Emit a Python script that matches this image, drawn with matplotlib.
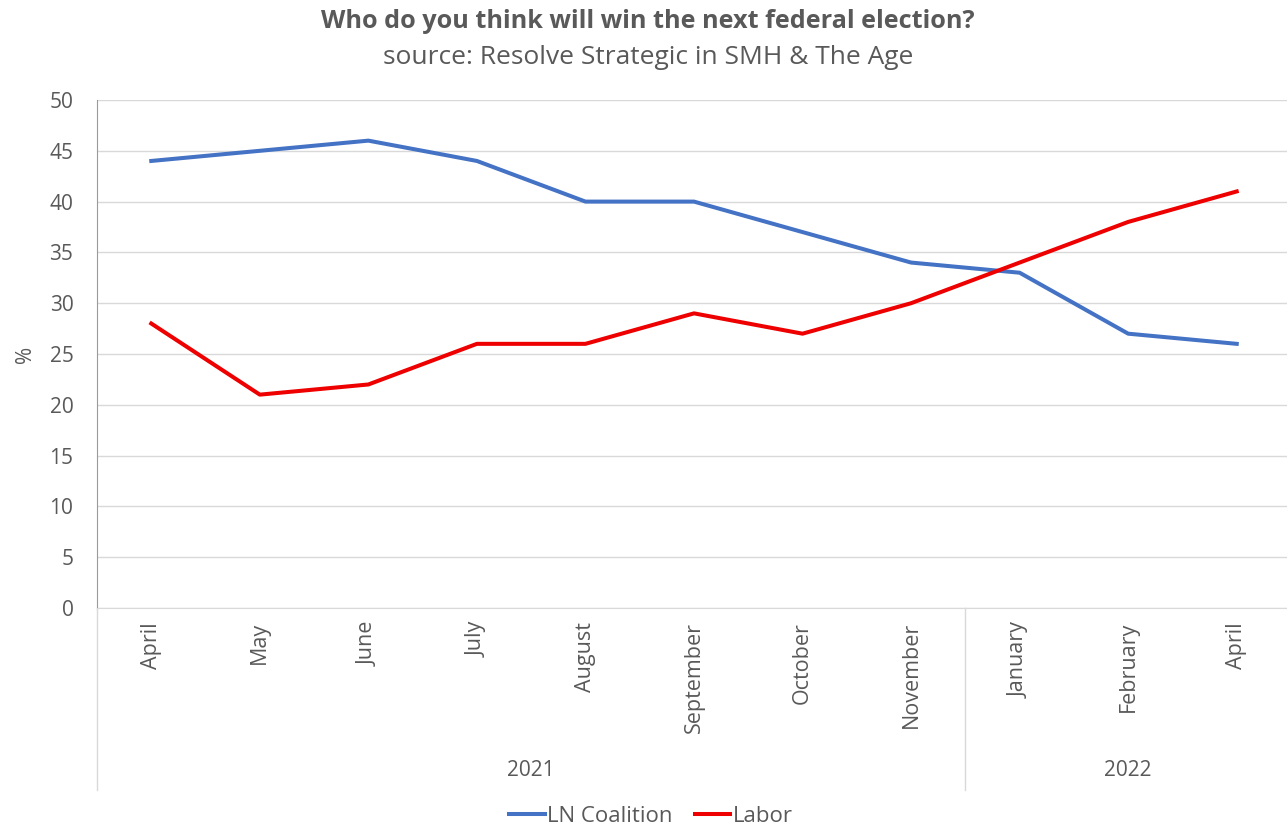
import numpy as np
import matplotlib
matplotlib.use("Agg")
from matplotlib import pyplot as plt
from matplotlib.transforms import blended_transform_factory

plt.rcParams['font.family'] = ['Open Sans', 'DejaVu Sans']

months = ["April", "May", "June", "July", "August", "September", "October",
          "November", "January", "February", "April"]
years = ["2021", "2022"]
year_counts = [8, 3]
coalition = [44, 45, 46, 44, 40, 40, 37, 34, 33, 27, 26]
labor = [28, 21, 22, 26, 26, 29, 27, 30, 34, 38, 41]

TXT = "#595959"
GRID = "#d9d9d9"


def main():
    fig = plt.figure(figsize=(12.87, 8.27), dpi=100)
    W, H = 1287, 827
    x0, x1 = 97, 1291
    y0, y1 = 608, 100
    ax = fig.add_axes([x0 / W, (H - y0) / H, (x1 - x0) / W, (y0 - y1) / H])

    x = np.arange(len(months))
    ax.plot(x, coalition, color="#4472c4", lw=2.9, label="LN Coalition",
            solid_joinstyle="round")
    ax.plot(x, labor, color="#ee0000", lw=2.9, label="Labor",
            solid_joinstyle="round")

    ax.set_xlim(-0.5, len(months) - 0.5)
    ax.set_ylim(0, 50)
    ax.set_yticks(np.arange(0, 51, 5))
    ax.yaxis.grid(True, color=GRID, lw=1)
    ax.set_axisbelow(True)
    for s in ["top", "right"]:
        ax.spines[s].set_visible(False)
    ax.spines["left"].set_color("#9a9a9a")
    ax.spines["bottom"].set_color(GRID)
    ax.tick_params(axis="y", length=0, labelsize=15, colors=TXT, pad=17)
    ax.tick_params(axis="x", length=0, labelsize=15.5, colors=TXT, pad=10)
    ax.set_xticks(x)
    ax.set_xticklabels(months, rotation=90, va="top")
    ax.set_ylabel("%", color=TXT, fontsize=15, labelpad=10)

    # year grouping row below the month labels
    tr = blended_transform_factory(ax.transData, ax.transAxes)
    row_bottom = -(790 - y0) / (y0 - y1)
    bounds = np.concatenate([[0], np.cumsum(year_counts)]) - 0.5
    for b in bounds[:-1]:
        ax.plot([b, b], [0, row_bottom], transform=tr, color=GRID, lw=1,
                clip_on=False)
    for yr, a, b in zip(years, bounds[:-1], bounds[1:]):
        ax.text((a + b) / 2, -(771 - y0) / (y0 - y1), yr, transform=tr,
                ha="center", va="center", fontsize=15, color=TXT)

    fig.text(648 / W, 1 - 22 / H, "Who do you think will win the next federal election?",
             ha="center", va="center", fontsize=18.2, fontweight="bold", color=TXT)
    fig.text(648 / W, 1 - 58 / H, "source: Resolve Strategic in SMH & The Age",
             ha="center", va="center", fontsize=19, color=TXT)

    leg = fig.legend(loc="center", bbox_to_anchor=(651 / W, 1 - 816 / H), ncol=2,
                     frameon=False, fontsize=16, handlelength=1.6,
                     handletextpad=0.1, columnspacing=1.0)
    for t in leg.get_texts():
        t.set_color(TXT)

    fig.savefig("out.png", dpi=100)


if __name__ == '__main__':
    main()
